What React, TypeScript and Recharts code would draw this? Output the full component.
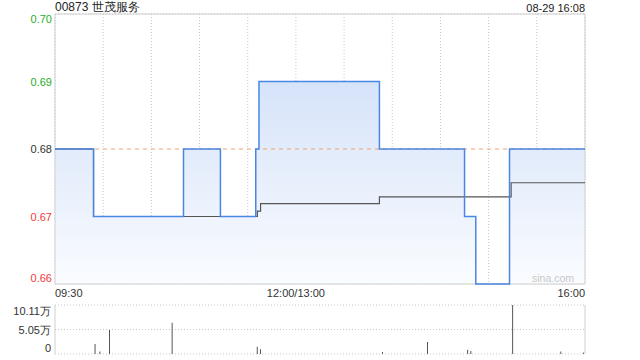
import React from "react";
import {
  ComposedChart,
  Area,
  Line,
  Bar,
  XAxis,
  YAxis,
  CartesianGrid,
  ReferenceLine,
  ReferenceArea,
} from "recharts";

// 00873 intraday, minutes from 09:30 (lunch break removed), 330 = 16:00
const prevClose = 0.68;
const priceTicks = [0.7, 0.69, 0.68, 0.67, 0.66];
const pctTicks = [2.94, 1.47, 0, -1.47, -2.94];
const timeTicks = [0, 30, 60, 90, 120, 150, 180, 210, 240, 270, 300, 330];
const timeLabels: Record<number, string> = { 0: "09:30", 150: "12:00/13:00", 330: "16:00" };

const priceMinutes = [0, 24, 80, 103, 125, 127, 202, 255, 262, 283, 330];
const priceValues = [0.68, 0.67, 0.68, 0.67, 0.68, 0.69, 0.68, 0.67, 0.66, 0.68, 0.68];

const avgMinutes = [0, 24, 126, 128, 202, 284, 330];
const avgValues = [0.68, 0.67, 0.6708, 0.6719, 0.6729, 0.675, 0.675];

const volMinutes = [25, 28, 34, 73, 126, 128, 204, 232, 257, 259, 285, 315, 329];
const volValues = [2.06, 0.5, 4.95, 6.46, 1.5, 1.0, 0.4, 2.5, 0.9, 0.6, 10.11, 0.5, 0.3];
const volTicks = [0, 5.05, 10.11];
const volLabels = ["0", "5.05万", "10.11万"];

const priceData = priceMinutes.map((t, i) => ({ t, price: priceValues[i] }));
const avgData = avgMinutes.map((t, i) => ({ t, avg: avgValues[i] }));
const volData = volMinutes.map((t, i) => ({ t, vol: volValues[i] }));

const FONT = "'Liberation Sans', Arial, sans-serif";
const GREEN = "#1fae1f";
const RED = "#f03a3a";
const DARK = "#333";

function colorFor(v: number) {
  if (v > 0) return GREEN;
  if (v < 0) return RED;
  return DARK;
}

// nudge the first/last labels inward like the original
function edgeShift(idx: number, count: number) {
  if (idx === 0) return 5;
  if (idx === count - 1) return -6;
  return 0;
}

const PriceTick = (props: any) => {
  const { y, payload } = props;
  const v = payload.value as number;
  const sorted = [...priceTicks].sort((a, b) => b - a);
  const pos = sorted.indexOf(v);
  return (
    <text
      x={52}
      y={y + edgeShift(pos, sorted.length)}
      textAnchor="end"
      dominantBaseline="central"
      fontSize={11}
      fontFamily={FONT}
      fill={colorFor(Math.round((v - prevClose) * 10000))}
    >
      {v.toFixed(2)}
    </text>
  );
};

const PctTick = (props: any) => {
  const { y, payload } = props;
  const v = payload.value as number;
  const sorted = [...pctTicks].sort((a, b) => b - a);
  const pos = sorted.indexOf(v);
  const label = (v > 0 ? "+" : "") + v.toFixed(2) + "%";
  return (
    <text
      x={590}
      y={y + edgeShift(pos, sorted.length)}
      textAnchor="start"
      dominantBaseline="central"
      fontSize={11}
      fontFamily={FONT}
      fill={colorFor(v)}
    >
      {label}
    </text>
  );
};

const TimeTick = (props: any) => {
  const { x, payload } = props;
  const v = payload.value as number;
  const label = timeLabels[v];
  if (!label) return null;
  const anchor = v === 0 ? "start" : v === 330 ? "end" : "middle";
  return (
    <text x={x} y={297} textAnchor={anchor} fontSize={11} fontFamily={FONT} fill={DARK}>
      {label}
    </text>
  );
};

const VolTick = (props: any) => {
  const { y, payload } = props;
  const v = payload.value as number;
  const idx = volTicks.indexOf(v);
  const shift = idx === volTicks.length - 1 ? 6 : idx === 0 ? -6 : 0;
  return (
    <text
      x={51}
      y={y + shift}
      textAnchor="end"
      dominantBaseline="central"
      fontSize={11}
      fontFamily={FONT}
      fill={DARK}
    >
      {volLabels[idx]}
    </text>
  );
};

export default function App() {
  return (
    <div
      style={{
        position: "absolute",
        left: 0,
        top: 0,
        width: 640,
        height: 360,
        background: "#fff",
        fontFamily: FONT,
      }}
    >
      <div style={{ position: "absolute", left: 55, top: 0, fontSize: 12, color: "#222", lineHeight: "15px" }}>
        00873 世茂服务
      </div>
      <div style={{ position: "absolute", right: 55, top: 1, fontSize: 11, color: "#222", lineHeight: "15px" }}>
        08-29 16:08
      </div>

      <div style={{ position: "absolute", left: 0, top: 0 }}>
        <ComposedChart width={640} height={300} margin={{ top: 14, right: 0, bottom: 0, left: 0 }}>
          <defs>
            <linearGradient id="priceFill" x1="0" y1="0" x2="0" y2="1">
              <stop offset="0%" stopColor="#d6e3f9" />
              <stop offset="100%" stopColor="#fafcff" />
            </linearGradient>
          </defs>
          <CartesianGrid stroke="#c8c8c8" strokeDasharray="1 2" />
          <XAxis
            dataKey="t"
            type="number"
            domain={[0, 330]}
            ticks={timeTicks}
            allowDuplicatedCategory={false}
            height={16}
            axisLine={false}
            tickLine={false}
            tick={<TimeTick />}
            interval={0}
          />
          <YAxis
            yAxisId="p"
            type="number"
            domain={[0.66, 0.7]}
            ticks={priceTicks}
            width={55}
            axisLine={false}
            tickLine={false}
            tick={<PriceTick />}
            interval={0}
          />
          <YAxis
            yAxisId="pct"
            orientation="right"
            type="number"
            domain={[-2.94, 2.94]}
            ticks={pctTicks}
            width={55}
            axisLine={false}
            tickLine={false}
            tick={<PctTick />}
            interval={0}
          />
          <Area
            yAxisId="p"
            data={priceData}
            dataKey="price"
            type="stepAfter"
            stroke="none"
            fill="url(#priceFill)"
            fillOpacity={1}
            isAnimationActive={false}
            dot={false}
            activeDot={false}
          />
          <ReferenceLine yAxisId="p" y={prevClose} stroke="#f2a070" strokeDasharray="4 4" />
          <Line
            yAxisId="p"
            data={avgData}
            dataKey="avg"
            type="stepAfter"
            stroke="#555"
            strokeWidth={1.2}
            dot={false}
            activeDot={false}
            isAnimationActive={false}
          />
          <Line
            yAxisId="p"
            data={priceData}
            dataKey="price"
            type="stepAfter"
            stroke="#4a87e2"
            strokeWidth={1.5}
            dot={false}
            activeDot={false}
            isAnimationActive={false}
          />
          <ReferenceArea yAxisId="p" x1={0} x2={330} y1={0.66} y2={0.7} fill="none" stroke="#cfcfcf" strokeOpacity={1} />
        </ComposedChart>
      </div>

      <div
        style={{
          position: "absolute",
          left: 532,
          top: 272,
          fontSize: 10.5,
          color: "#c8c8c8",
          lineHeight: "13px",
        }}
      >
        sina.com
      </div>

      <div style={{ position: "absolute", left: 0, top: 300 }}>
        <ComposedChart width={640} height={60} margin={{ top: 5, right: 55, bottom: 6, left: 0 }} data={volData}>
          <CartesianGrid stroke="#c8c8c8" strokeDasharray="1 2" vertical={false} />
          <XAxis dataKey="t" type="number" domain={[0, 330]} hide />
          <YAxis
            type="number"
            domain={[0, 10.11]}
            ticks={volTicks}
            width={55}
            axisLine={false}
            tickLine={false}
            tick={<VolTick />}
            interval={0}
          />
          <ReferenceLine x={0} stroke="#cfcfcf" />
          <ReferenceLine x={330} stroke="#cfcfcf" />
          <Bar dataKey="vol" fill="#555" barSize={1} isAnimationActive={false} />
        </ComposedChart>
      </div>
    </div>
  );
}
